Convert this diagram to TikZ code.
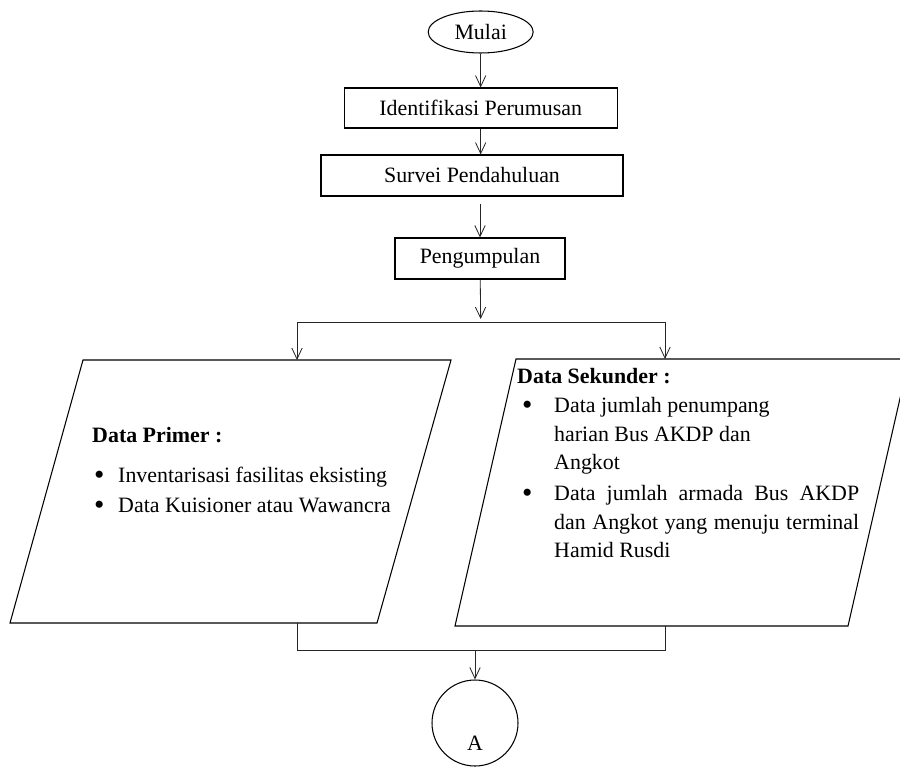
\documentclass[tikz,border=0pt]{standalone}
\usepackage{graphicx}
\usepackage{fontspec}
\setmainfont{Liberation Serif}
\usetikzlibrary{arrows.meta, positioning, shapes.geometric}
\newcommand{\bigdot}{\raisebox{-0.11em}{\scalebox{1.35}{\textbullet}}}

\begin{document}
\begin{tikzpicture}[scale=1.0, >={Straight Barb[length=3.3mm,width=3.1mm]},
    txt/.style={font=\fontsize{18.7}{24.4}\selectfont, inner sep=0pt},
    procbox/.style={draw, line width=0.9pt, txt, inner sep=2pt},
    link/.style={line width=0.7pt, black!85}]
    \path[use as bounding box, clip] (0,0) rectangle (27,-23.01);

    % Start and process steps
    \node[procbox, ellipse, minimum width=3.15cm, minimum height=1.26cm] (mulai) at (14.42,-0.96) {Mulai};
    \node[procbox, minimum width=8.19cm, minimum height=1.2cm] (ident) at (14.42,-3.24) {Identifikasi Perumusan};
    \node[procbox, minimum width=9.06cm, minimum height=1.23cm] (survei) at (14.16,-5.265) {Survei Pendahuluan};
    \node[procbox, minimum width=5.1cm, minimum height=1.23cm] (kumpul) at (14.4,-7.755) {Pengumpulan};

    % Input data (parallelograms)
    \coordinate (primerTop) at (7.92,-10.8);
    \coordinate (primerBot) at (5.8,-18.69);
    \draw[line width=0.9pt] (0.3,-18.69) -- (2.49,-10.8) -- (13.53,-10.8) -- (11.31,-18.69) -- cycle;
    \coordinate (sekTop) at (21.4,-10.77);
    \coordinate (sekBot) at (19.5,-18.78);
    \draw[line width=0.9pt] (13.65,-18.78) -- (15.48,-10.77) -- (27.27,-10.77) -- (25.44,-18.78) -- cycle;

    \node[txt, font=\fontsize{18.7}{24.4}\selectfont\bfseries, anchor=base west] (primerT) at (2.76,-13.26) {Data Primer :};
    \node[txt, anchor=base west] (primer1) at (2.82,-14.46) {\makebox[0.72cm][l]{\bigdot}Inventarisasi fasilitas eksisting};
    \node[txt, anchor=base west] (primer2) at (2.82,-15.36) {\makebox[0.72cm][l]{\bigdot}Data Kuisioner atau Wawancra};

    \node[txt, font=\fontsize{18.7}{24.4}\selectfont\bfseries, anchor=base west] (sekT) at (15.51,-11.49) {Data Sekunder :};
    \node[txt, anchor=base west] (sekB1) at (15.66,-12.36) {\bigdot};
    \node[txt, anchor=north west, align=left] (sek1) at (16.62,-11.91) {Data jumlah penumpang\\harian Bus AKDP dan\\Angkot};
    \node[txt, anchor=base west] (sekB2) at (15.66,-15.0) {\bigdot};
    \node[txt, anchor=north west, align=left] (sek2) at (16.62,-14.55) {\makebox[9.15cm][s]{Data jumlah armada Bus AKDP}\\\makebox[9.15cm][s]{dan Angkot yang menuju terminal}\\Hamid Rusdi};

    % Connector
    \node[draw, line width=0.9pt, circle, minimum size=2.58cm] (konA) at (14.25,-21.69) {};
    \node[txt] (labA) at (14.25,-22.29) {A};

    % Joints
    \coordinate (jTop) at (14.42,-9.57);
    \coordinate (sL) at (8.91,-9.66);
    \coordinate (sR) at (19.95,-9.66);
    \coordinate (jL) at (8.91,-19.5);
    \coordinate (jR) at (19.95,-19.5);
    \coordinate (jM) at (14.25,-19.5);

    % Connecting lines
    \draw[->, link] (mulai) -- (ident);
    \draw[->, link] (ident.south) -- (ident.south |- survei.north);
    \draw[->, link, shorten <=0.21cm] (survei.south -| kumpul.north) -- (kumpul.north);
    \draw[->, link] (kumpul) -- (jTop);
    \draw[link] (sL) -- (sR);
    \draw[->, link] (sL) -- (sL |- primerTop);
    \draw[->, link] (sR) -- (sR |- sekTop);
    \draw[link] (sL |- primerBot) -- (jL) -- (jR) -- (sR |- sekBot);
    \draw[->, link] (jM) -- (konA);
\end{tikzpicture}
\end{document}
